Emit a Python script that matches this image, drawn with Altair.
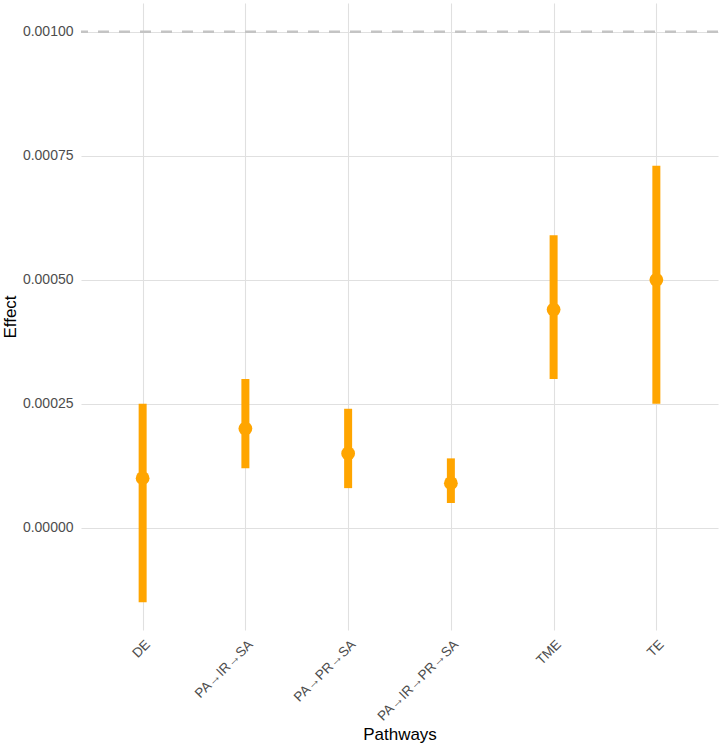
import altair as alt
import pandas as pd

# Mediation pathways with point estimates and confidence limits
pathways = ["DE", "PA→IR→SA", "PA→PR→SA", "PA→IR→PR→SA", "TME", "TE"]
estimate = [0.00010, 0.00020, 0.00015, 0.00009, 0.00044, 0.00050]
lower = [-0.00015, 0.00012, 0.00008, 0.00005, 0.00030, 0.00025]
upper = [0.00025, 0.00030, 0.00024, 0.00014, 0.00059, 0.00073]
reference_line = 0.001
y_ticks = [0.0, 0.00025, 0.0005, 0.00075, 0.001]

df = pd.DataFrame({"Pathway": pathways, "Effect": estimate,
                   "Lower": lower, "Upper": upper})

ORANGE = "#FFA500"
FONT = "Liberation Sans"

x_enc = alt.X(
    "Pathway:N",
    sort=pathways,
    scale=alt.Scale(type="point", padding=0.6),
    axis=alt.Axis(
        title="Pathways", labelAngle=-45, labelAlign="right",
        labelBaseline="top", labelPadding=7, labelFontSize=13.5,
        labelColor="#4D4D4D", labelFont=FONT,
        titleFont=FONT, titleFontSize=17, titleFontWeight="normal",
        titleColor="#000000", titleY=104, titleBaseline="middle",
        ticks=False, domain=False, grid=True,
        gridColor="#E0E0E0", gridWidth=1.1,
    ),
)

y_scale = alt.Scale(domain=[-0.000206, 0.001058], nice=False, zero=False)
y_axis = alt.Axis(
    title="Effect", values=y_ticks, format=".5f",
    labelFontSize=14, labelColor="#4D4D4D", labelFont=FONT, labelPadding=8,
    titleFont=FONT, titleFontSize=17, titleFontWeight="normal",
    titleColor="#000000", titleX=-71, titleY=313.5, titleAngle=-90,
    titleAlign="center", titleBaseline="middle",
    ticks=False, domain=False, grid=True,
    gridColor="#E0E0E0", gridWidth=1.1,
)

intervals = alt.Chart(df).mark_rule(
    color=ORANGE, strokeWidth=8, strokeCap="butt"
).encode(
    x=x_enc,
    y=alt.Y("Lower:Q", scale=y_scale, axis=y_axis),
    y2="Upper:Q",
)

points = alt.Chart(df).mark_circle(color=ORANGE, size=190, opacity=1).encode(
    x=alt.X("Pathway:N", sort=pathways),
    y=alt.Y("Effect:Q"),
)

ref = alt.Chart(pd.DataFrame({"y": [reference_line]})).mark_rule(
    color="#C4C4C4", strokeWidth=2.5, strokeDash=[11, 10]
).encode(y="y:Q")

chart = alt.layer(ref, intervals, points).properties(
    width=637,
    height=627,
    autosize=alt.AutoSizeParams(type="none"),
    padding={"left": 81, "top": 3, "right": 2, "bottom": 117},
    background="white",
).configure_view(stroke=None)

chart.save("out.html", embed_options={"renderer": "svg", "actions": False})
